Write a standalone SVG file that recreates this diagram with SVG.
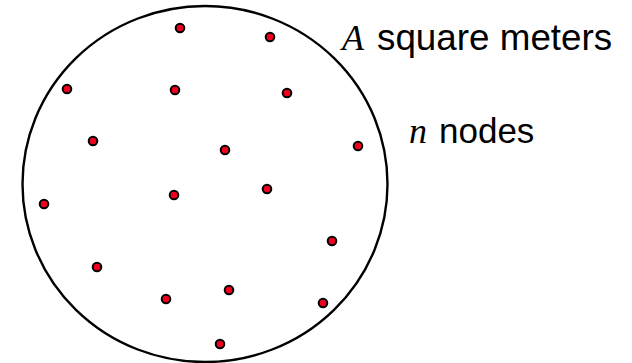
<svg xmlns="http://www.w3.org/2000/svg" width="632" height="363" viewBox="0 0 632 363">
<style>
.area{fill:none;stroke:#000;stroke-width:2.4}
.dot{fill:#f0001e;stroke:#000;stroke-width:2}
.sans{font-family:"Liberation Sans",Arial,sans-serif;font-size:36.8px;fill:#000}
.it{font-family:"Liberation Serif","Times New Roman",serif;font-style:italic;font-size:36px;fill:#000}
</style>
<rect width="632" height="363" fill="#fff"/>
<g id="area"><ellipse class="area" cx="205" cy="184" rx="182.5" ry="178"/></g>
<g id="nodes">
<circle class="dot" cx="180" cy="28" r="4.3"/>
<circle class="dot" cx="270" cy="37" r="4.3"/>
<circle class="dot" cx="67" cy="89" r="4.3"/>
<circle class="dot" cx="175" cy="90" r="4.3"/>
<circle class="dot" cx="287" cy="93" r="4.3"/>
<circle class="dot" cx="93" cy="141" r="4.3"/>
<circle class="dot" cx="225" cy="150" r="4.3"/>
<circle class="dot" cx="358" cy="146" r="4.3"/>
<circle class="dot" cx="44" cy="204" r="4.3"/>
<circle class="dot" cx="174" cy="195" r="4.3"/>
<circle class="dot" cx="267" cy="189" r="4.3"/>
<circle class="dot" cx="332" cy="241" r="4.3"/>
<circle class="dot" cx="97" cy="267" r="4.3"/>
<circle class="dot" cx="166" cy="299" r="4.3"/>
<circle class="dot" cx="229" cy="290" r="4.3"/>
<circle class="dot" cx="323" cy="303" r="4.3"/>
<circle class="dot" cx="220" cy="344" r="4.3"/>
</g>
<g id="label-area"><text x="342" y="50"><tspan class="it">A</tspan><tspan class="sans" x="377">square meters</tspan></text></g>
<g id="label-nodes"><text x="409" y="143"><tspan class="it">n</tspan><tspan class="sans" x="439" style="font-size:35px">nodes</tspan></text></g>
</svg>
